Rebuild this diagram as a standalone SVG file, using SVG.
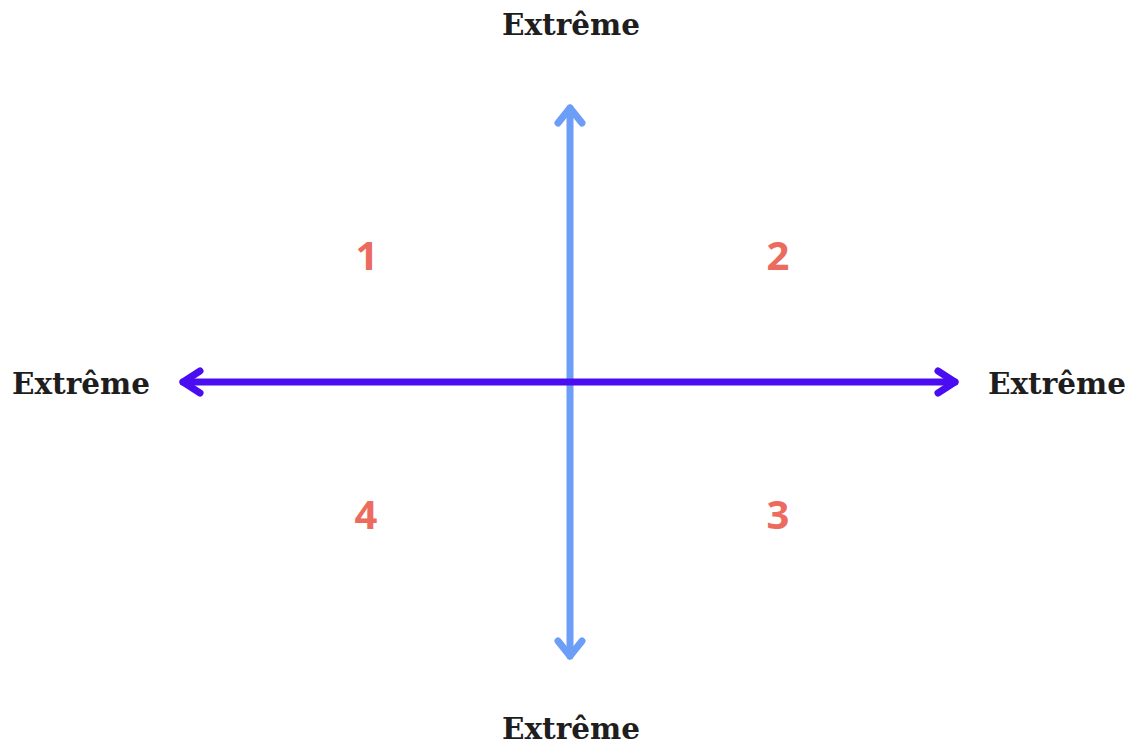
<svg xmlns="http://www.w3.org/2000/svg" width="1128" height="744" viewBox="0 0 1128 744">
<style>
.lbl{font-family:"DejaVu Serif","Liberation Serif",serif;font-weight:bold;font-size:29.5px;fill:#1e1e1e;text-anchor:middle}
.num{font-family:"Noto Sans","Liberation Sans",sans-serif;font-weight:bold;font-size:40px;fill:#ec6b5e;text-anchor:middle}
.ax{fill:none;stroke-width:7;stroke-linecap:round;stroke-linejoin:round}
.v{stroke:#6c9ef8}
.h{stroke:#4a0cf0}
</style>
<rect width="1128" height="744" fill="#ffffff"/>
<g id="connectors">
<path class="ax v" d="M570 108 L570 656"/>
<path class="ax v" d="M558 123 L570 108 L582 123"/>
<path class="ax v" d="M558 641 L570 656 L582 641"/>
<path class="ax h" d="M183 382 L955 382"/>
<path class="ax h" d="M200 371 L183 382 L200 393"/>
<path class="ax h" d="M938 371 L955 382 L938 393"/>
</g>
<g id="label-top"><text class="lbl" x="571" y="35">Extrême</text></g>
<g id="label-bottom"><text class="lbl" x="571" y="739">Extrême</text></g>
<g id="label-left"><text class="lbl" x="81" y="394">Extrême</text></g>
<g id="label-right"><text class="lbl" x="1057" y="394">Extrême</text></g>
<g id="q1"><text class="num" x="367" y="270">1</text></g>
<g id="q2"><text class="num" x="778" y="270">2</text></g>
<g id="q3"><text class="num" x="778" y="529">3</text></g>
<g id="q4"><text class="num" x="366" y="529">4</text></g>
</svg>
